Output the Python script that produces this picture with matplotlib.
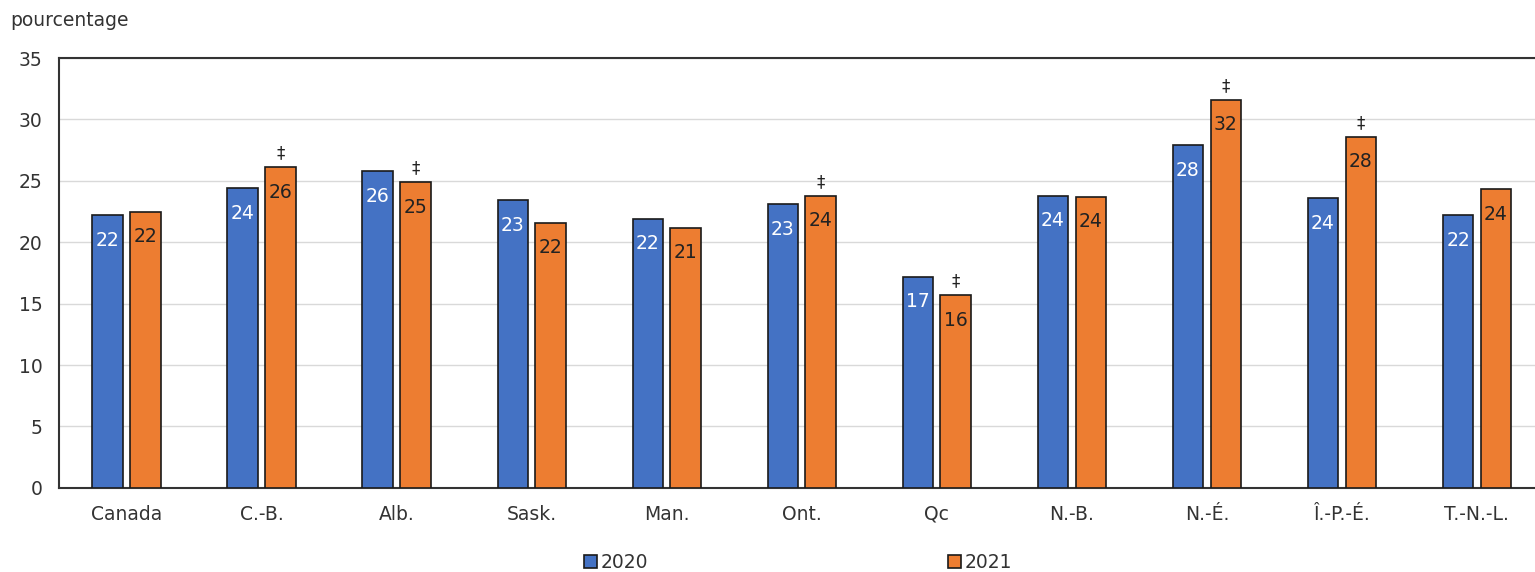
import numpy as np
import matplotlib.pyplot as plt

categories = ['Canada', 'C.-B.', 'Alb.', 'Sask.', 'Man.', 'Ont.', 'Qc',
              'N.-B.', 'N.-É.', 'Î.-P.-É.', 'T.-N.-L.']
vals_2020 = [22.2, 24.4, 25.8, 23.4, 21.9, 23.1, 17.2, 23.8, 27.9, 23.6, 22.2]
vals_2021 = [22.5, 26.1, 24.9, 21.6, 21.2, 23.8, 15.7, 23.7, 31.6, 28.6, 24.3]
labels_2020 = ['22', '24', '26', '23', '22', '23', '17', '24', '28', '24', '22']
labels_2021 = ['22', '26', '25', '22', '21', '24', '16', '24', '32', '28', '24']
flag_2021 = [False, True, True, False, False, True, True, False, True, True, False]

blue = '#4472C4'
orange = '#ED7D31'

fig = plt.figure(figsize=(15.35, 5.72), dpi=100)
ax = fig.add_axes([0.0384, 0.147, 0.9616, 0.7516])

x = np.arange(len(categories))
w = 0.225
off = 0.14
b1 = ax.bar(x - off, vals_2020, w, color=blue, edgecolor='#1a1a1a', linewidth=1.2, label='2020', zorder=3)
b2 = ax.bar(x + off, vals_2021, w, color=orange, edgecolor='#1a1a1a', linewidth=1.2, label='2021', zorder=3)

for i in range(len(x)):
    ax.annotate(labels_2020[i], (x[i] - off, vals_2020[i]), xytext=(0, -18),
                textcoords='offset points', ha='center', va='center',
                color='white', fontsize=13.5, zorder=4)
    ax.annotate(labels_2021[i], (x[i] + off, vals_2021[i]), xytext=(0, -18),
                textcoords='offset points', ha='center', va='center',
                color='#222222', fontsize=13.5, zorder=4)
    if flag_2021[i]:
        ax.annotate('‡', (x[i] + off, vals_2021[i]), xytext=(0, 10),
                    textcoords='offset points', ha='center', va='center',
                    color='#222222', fontsize=12, zorder=4)

ax.set_ylim(0, 35)
ax.set_xlim(-0.5, 10.43)
ax.set_yticks(range(0, 36, 5))
ax.set_xticks(x)
ax.set_xticklabels(categories)
ax.tick_params(axis='both', length=0, labelsize=13.5, colors='#333333')
ax.tick_params(axis='x', pad=12)
ax.tick_params(axis='y', pad=12)
ax.grid(axis='y', color='#d9d9d9', linewidth=1, zorder=0)
for s in ['left', 'bottom', 'top']:
    ax.spines[s].set_color('#333333')
    ax.spines[s].set_linewidth(1.5)
ax.spines['right'].set_visible(False)

fig.text(0.007, 0.965, 'pourcentage', fontsize=13.5, color='#333333', va='center')

fig.legend(handles=[b1, b2], loc='center', bbox_to_anchor=(0.52, 0.017), ncol=2,
           frameon=False, fontsize=13.5, handlelength=0.7, handleheight=0.7,
           handletextpad=0.2, columnspacing=16, labelcolor='#333333')

fig.savefig('out.png', dpi=100)
